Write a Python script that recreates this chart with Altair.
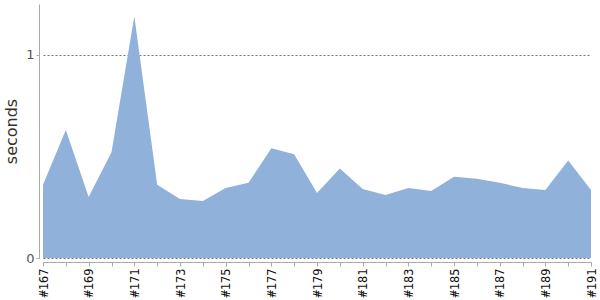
import altair as alt
import pandas as pd

builds = [f"#{n}" for n in range(167, 192)]
seconds = [0.36, 0.63, 0.30, 0.52, 1.19, 0.36, 0.29, 0.28, 0.345, 0.37,
           0.54, 0.51, 0.32, 0.44, 0.34, 0.31, 0.345, 0.33, 0.40, 0.39,
           0.37, 0.345, 0.335, 0.48, 0.335]

df = pd.DataFrame({"build": builds, "seconds": seconds})

area = alt.Chart(df).mark_area(color="#8fb1da", opacity=1, interpolate="linear").encode(
    x=alt.X("build:O", sort=builds,
            scale=alt.Scale(type="point", padding=0),
            axis=alt.Axis(title=None, labelAngle=-90, labelAlign="right", labelBaseline="middle",
                          labelFont="DejaVu Sans Mono", labelFontSize=12, labelColor="#111",
                          labelExpr="toNumber(slice(datum.value, 1)) % 2 == 1 ? datum.value : ''",
                          domainColor="#aaa", tickColor="#aaa", tickSize=4, offset=4,
                          labelPadding=2, grid=False)),
    y=alt.Y("seconds:Q",
            scale=alt.Scale(domain=[0, 1.25], nice=False, zero=True),
            axis=alt.Axis(title="seconds", values=[0, 1], format="d",
                          titleFont="DejaVu Sans", titleFontSize=16, titleFontWeight="normal",
                          titleColor="#333", titlePadding=6,
                          labelFont="DejaVu Sans", labelFontSize=13, labelColor="#555",
                          domainColor="#aaa", tickColor="#aaa", tickSize=3, offset=4,
                          grid=True, gridColor="#777", gridDash=[2, 2], gridWidth=1))
)

chart = area.properties(
    width=548, height=254,
    autosize=alt.AutoSizeParams(type="none"),
    padding={"left": 43, "top": 4, "right": 9, "bottom": 42},
).configure_view(stroke=None).configure_axis(gridOpacity=1)

chart.save("out.html", embed_options={"renderer": "svg", "actions": False})
